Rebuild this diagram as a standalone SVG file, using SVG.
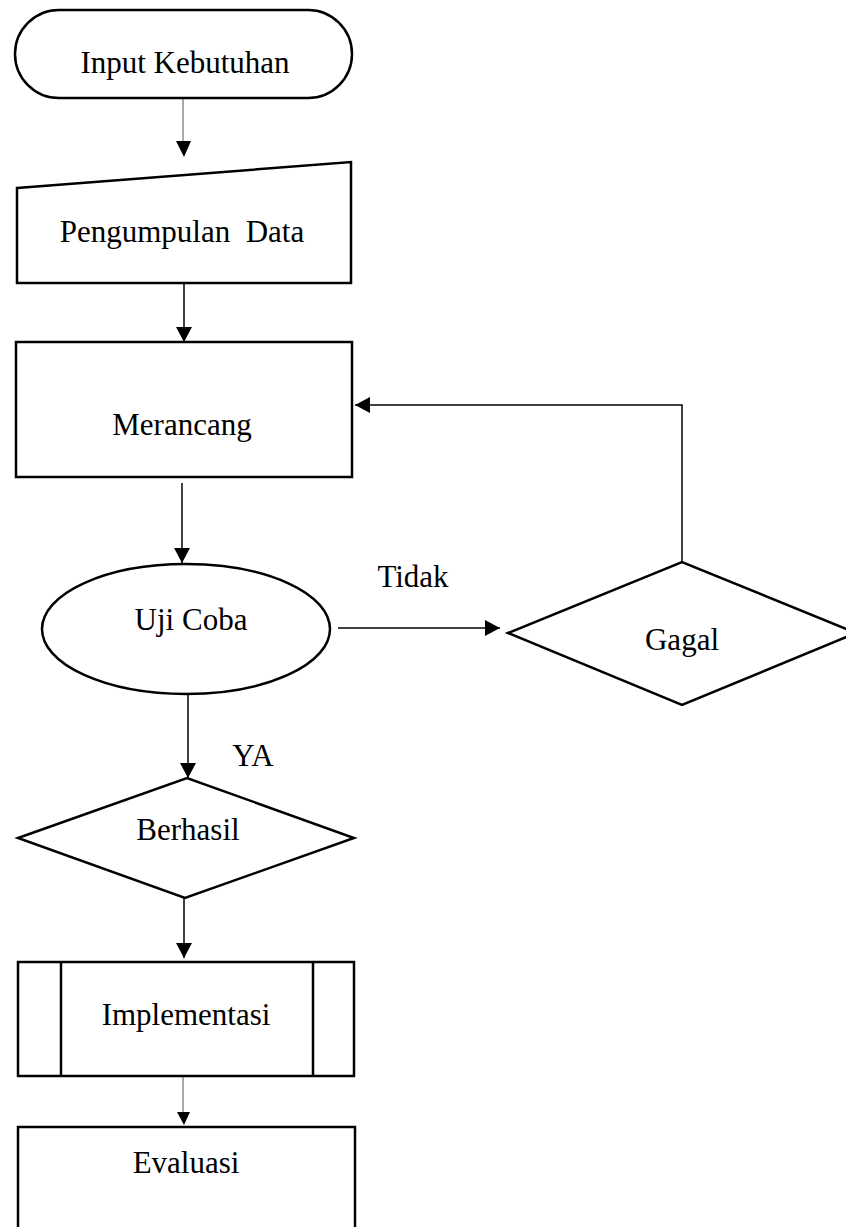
<svg xmlns="http://www.w3.org/2000/svg" width="846" height="1227" viewBox="0 0 846 1227">
<style>
.s{fill:#fff;stroke:#000;stroke-width:2.5}
.t{font-family:"Liberation Serif","Times New Roman",serif;font-size:31px;fill:#000;text-anchor:middle}
.c{stroke:#000;stroke-width:1.5;fill:none}
.g{stroke:#aaa;stroke-width:2;fill:none}
</style>
<defs>
<marker id="ah" markerWidth="15" markerHeight="16" refX="15" refY="8" orient="auto" markerUnits="userSpaceOnUse">
<path d="M0,0 L15,8 L0,16 Z" fill="#000"/>
</marker>
</defs>
<rect width="846" height="1227" fill="#fff"/>
<g id="connectors">
<line class="g" x1="183" y1="98" x2="183" y2="143"/>
<path d="M176,141 L191,141 L184,157 Z" fill="#000"/>
<line class="c" x1="184" y1="283" x2="184" y2="342" marker-end="url(#ah)"/>
<line class="c" x1="182" y1="483" x2="182" y2="563" marker-end="url(#ah)"/>
<line class="c" x1="338" y1="628" x2="500" y2="628" marker-end="url(#ah)"/>
<polyline class="c" points="682,562 682,405 355,405" marker-end="url(#ah)"/>
<line class="c" x1="188" y1="694" x2="188" y2="778" marker-end="url(#ah)"/>
<line class="c" x1="184" y1="898" x2="184" y2="958" marker-end="url(#ah)"/>
<line class="g" x1="183" y1="1077" x2="183" y2="1114"/>
<path d="M177,1112 L190,1112 L184,1125 Z" fill="#000"/>
<text class="t" x="413" y="587">Tidak</text>
<text class="t" x="253" y="766">YA</text>
</g>
<g id="input-kebutuhan">
<rect class="s" x="15" y="10" width="337" height="88" rx="44" ry="44"/>
<text class="t" x="185" y="73">Input Kebutuhan</text>
</g>
<g id="pengumpulan-data">
<polygon class="s" points="17,188 351,162 351,283 17,283"/>
<text class="t" x="182" y="242" xml:space="preserve">Pengumpulan  Data</text>
</g>
<g id="merancang">
<rect class="s" x="16" y="342" width="336" height="135"/>
<text class="t" x="182" y="435">Merancang</text>
</g>
<g id="uji-coba">
<ellipse class="s" cx="186" cy="629" rx="144" ry="65"/>
<text class="t" x="191" y="630">Uji Coba</text>
</g>
<g id="gagal">
<polygon class="s" points="508,633 682,562 856,633 682,705"/>
<text class="t" x="682" y="650">Gagal</text>
</g>
<g id="berhasil">
<polygon class="s" points="18,838 187,778 354,838 185,898"/>
<text class="t" x="188" y="840">Berhasil</text>
</g>
<g id="implementasi">
<rect class="s" x="18" y="962" width="336" height="114"/>
<line class="s" x1="61" y1="962" x2="61" y2="1076"/>
<line class="s" x1="313" y1="962" x2="313" y2="1076"/>
<text class="t" x="186" y="1025">Implementasi</text>
</g>
<g id="evaluasi">
<rect class="s" x="18" y="1127" width="337" height="120"/>
<text class="t" x="186" y="1173">Evaluasi</text>
</g>
</svg>
